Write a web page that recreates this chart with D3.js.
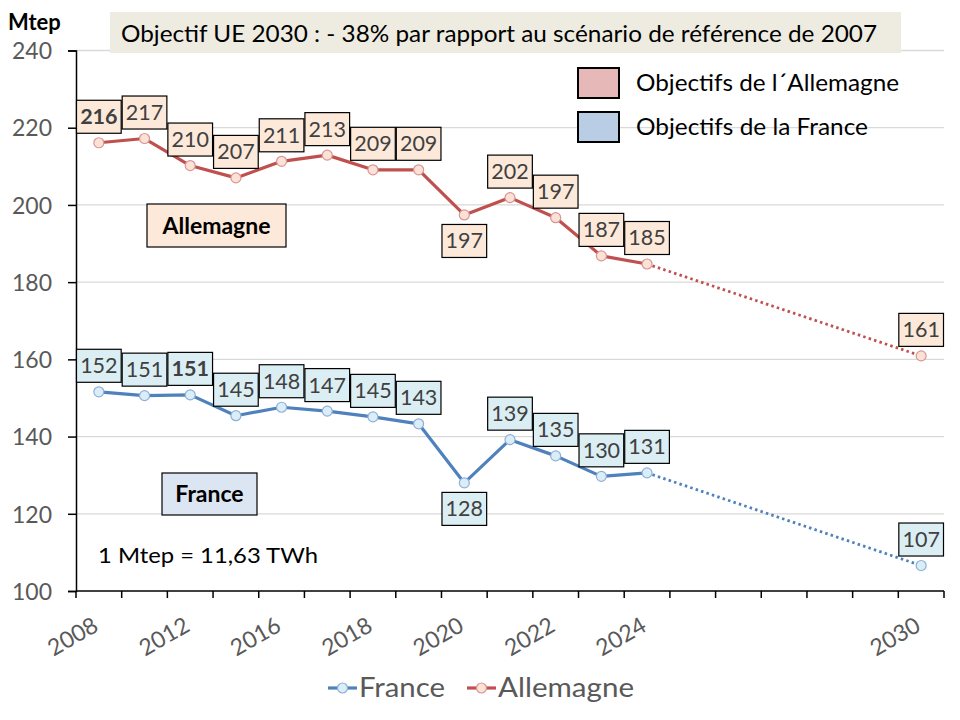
<!DOCTYPE html>
<html>
<head>
<meta charset="utf-8">
<script src="https://cdn.jsdelivr.net/npm/d3@7"></script>
<style>
  body { margin: 0; background: #fff; }
  svg { font-family: Lato, "Noto Sans", sans-serif; }
</style>
</head>
<body>
<div id="chart"></div>
<script>
// categories on the x axis (one band per year, Excel style)
var years = ["2008", "2010", "2012", "2014", "2016", "2017", "2018", "2019", "2020",
  "2021", "2022", "2023", "2024", "2025", "2026", "2027", "2028", "2029", "2030"];
var tickYears = ["2008", "2012", "2016", "2018", "2020", "2022", "2024", "2030"];
var yTicks = [100, 120, 140, 160, 180, 200, 220, 240];

// measured years, then the 2030 target
var dataYears = ["2008", "2010", "2012", "2014", "2016", "2017", "2018", "2019", "2020",
  "2021", "2022", "2023", "2024", "2030"];
var allemagne = [216.1, 217.2, 210.2, 207.0, 211.3, 212.9, 209.1, 209.1, 197.4, 201.9, 196.7, 186.8, 184.7, 160.9];
var france = [151.6, 150.6, 150.8, 145.4, 147.6, 146.6, 145.1, 143.3, 128.0, 139.2, 135.0, 129.7, 130.6, 106.6];

var lastMeasured = "2024";
var labelBelow = ["2020"];
var boldAllemagne = ["2008"];
var boldFrance = ["2012"];

var svgWidth = 960;
var svgHeight = 720;
var margin = { top: 50.5, right: 16, bottom: 129, left: 76 };

var svg = d3.select("#chart")
  .append("svg")
  .attr("width", svgWidth)
  .attr("height", svgHeight);

var x = d3.scaleBand()
  .domain(years)
  .range([margin.left, svgWidth - margin.right])
  .padding(0);

var y = d3.scaleLinear()
  .domain([100, 240])
  .range([svgHeight - margin.bottom, margin.top]);

var xc = function(yr) { return x(yr) + x.bandwidth() / 2; };

// gridlines
svg.append("g")
  .selectAll("line")
  .data(yTicks.slice(1))
  .enter()
  .append("line")
  .attr("x1", margin.left)
  .attr("x2", svgWidth - margin.right)
  .attr("y1", d => y(d))
  .attr("y2", d => y(d))
  .attr("stroke", "#d9d9d9")
  .attr("stroke-width", 1.3);

// y axis
var yAxis = svg.append("g")
  .attr("transform", `translate(${margin.left},0)`)
  .call(d3.axisLeft(y).tickValues(yTicks).tickSize(8).tickPadding(16));
yAxis.select(".domain").attr("stroke", "#000").attr("stroke-width", 1.5);
yAxis.selectAll(".tick line").attr("stroke", "#000").attr("stroke-width", 1.5);
yAxis.selectAll(".tick text")
  .attr("font-family", "Lato, sans-serif")
  .attr("font-size", 23)
  .attr("fill", "#595959")
  .attr("dy", "0.36em");

// x axis: ticks between categories
var xAxisY = y(100);
svg.append("line")
  .attr("x1", margin.left).attr("x2", svgWidth - margin.right)
  .attr("y1", xAxisY).attr("y2", xAxisY)
  .attr("stroke", "#000").attr("stroke-width", 1.5);
svg.append("g")
  .selectAll("line")
  .data(years.concat(["end"]))
  .enter()
  .append("line")
  .attr("x1", (d, i) => i < years.length ? x(d) : x(years[years.length - 1]) + x.bandwidth())
  .attr("x2", (d, i) => i < years.length ? x(d) : x(years[years.length - 1]) + x.bandwidth())
  .attr("y1", xAxisY)
  .attr("y2", xAxisY + 7)
  .attr("stroke", "#000")
  .attr("stroke-width", 1.5);

svg.append("g")
  .selectAll("text")
  .data(tickYears)
  .enter()
  .append("text")
  .attr("transform", d => `translate(${xc(d) + 1},${xAxisY + 39}) rotate(-30)`)
  .attr("text-anchor", "end")
  .attr("font-size", 23)
  .attr("fill", "#595959")
  .text(d => d);

// build series
function series(values) {
  return dataYears.map((yr, i) => ({ year: yr, value: values[i] }));
}
var seriesList = [
  { name: "France", data: series(france), line: "#4f81bd", markFill: "#dbeef8", markStroke: "#8eb0d8",
    boxFill: "#dbeef4", bold: boldFrance },
  { name: "Allemagne", data: series(allemagne), line: "#c0504d", markFill: "#fbe1d6", markStroke: "#d99694",
    boxFill: "#fde9d9", bold: boldAllemagne }
];

var lineGen = d3.line()
  .x(d => xc(d.year))
  .y(d => y(d.value));

var cut = dataYears.indexOf(lastMeasured);

seriesList.forEach(function(s) {
  var solid = s.data.slice(0, cut + 1);
  var dotted = s.data.slice(cut);

  svg.append("path")
    .datum(solid)
    .attr("d", lineGen)
    .attr("fill", "none")
    .attr("stroke", s.line)
    .attr("stroke-width", 3.2)
    .attr("stroke-linejoin", "round");

  svg.append("path")
    .datum(dotted)
    .attr("d", lineGen)
    .attr("fill", "none")
    .attr("stroke", s.line)
    .attr("stroke-width", 2.8)
    .attr("stroke-dasharray", "2.5,3.2");

  svg.append("g")
    .selectAll("circle")
    .data(s.data)
    .enter()
    .append("circle")
    .attr("cx", d => xc(d.year))
    .attr("cy", d => y(d.value))
    .attr("r", 5)
    .attr("fill", s.markFill)
    .attr("stroke", s.markStroke)
    .attr("stroke-width", 1.2);
});

// data labels
var boxW = x.bandwidth() - 1;
var boxH = 33;
seriesList.forEach(function(s) {
  var lab = svg.append("g")
    .selectAll("g")
    .data(s.data)
    .enter()
    .append("g")
    .attr("transform", function(d) {
      var cy = y(d.value) + (labelBelow.indexOf(d.year) >= 0 ? 26 : -26);
      return `translate(${xc(d.year)},${cy})`;
    });

  lab.append("rect")
    .attr("x", -boxW / 2)
    .attr("y", -boxH / 2)
    .attr("width", boxW)
    .attr("height", boxH)
    .attr("fill", s.boxFill)
    .attr("stroke", "#000")
    .attr("stroke-width", 1.2);

  lab.append("text")
    .attr("text-anchor", "middle")
    .attr("y", 7.5)
    .attr("font-size", 21.5)
    .attr("font-weight", d => s.bold.indexOf(d.year) >= 0 ? "bold" : "normal")
    .attr("fill", "#404040")
    .text(d => Math.round(d.value));
});

// unit
svg.append("text")
  .attr("x", 8).attr("y", 30)
  .attr("font-size", 22)
  .attr("font-weight", "bold")
  .attr("fill", "#000")
  .text("Mtep");

// title box
svg.append("rect")
  .attr("x", 110).attr("y", 12)
  .attr("width", 791).attr("height", 41)
  .attr("fill", "#eeece1");
svg.append("text")
  .attr("x", 121).attr("y", 42)
  .attr("font-size", 23)
  .attr("fill", "#000")
  .attr("textLength", 756)
  .attr("lengthAdjust", "spacingAndGlyphs")
  .text("Objectif UE 2030 : - 38% par rapport au scénario de référence de 2007");

// target legend
var targets = [
  { label: "Objectifs de l\u00B4Allemagne", fill: "#e6b9b8", top: 68, width: 263 },
  { label: "Objectifs de la France", fill: "#b9cde5", top: 112, width: 232 }
];
targets.forEach(function(t) {
  svg.append("rect")
    .attr("x", 578).attr("y", t.top)
    .attr("width", 41).attr("height", 30)
    .attr("fill", t.fill)
    .attr("stroke", "#000")
    .attr("stroke-width", 2);
  svg.append("text")
    .attr("x", 636).attr("y", t.top + 23)
    .attr("font-size", 24)
    .attr("fill", "#000")
    .attr("textLength", t.width)
    .attr("lengthAdjust", "spacingAndGlyphs")
    .text(t.label);
});

// country tags
var tags = [
  { label: "Allemagne", x: 147, y: 204, w: 139, h: 43, fill: "#fde9d9" },
  { label: "France", x: 162, y: 473, w: 95, h: 42, fill: "#dce6f2" }
];
tags.forEach(function(t) {
  svg.append("rect")
    .attr("x", t.x).attr("y", t.y)
    .attr("width", t.w).attr("height", t.h)
    .attr("fill", t.fill)
    .attr("stroke", "#000")
    .attr("stroke-width", 1.2);
  svg.append("text")
    .attr("x", t.x + t.w / 2).attr("y", t.y + t.h / 2 + 8)
    .attr("text-anchor", "middle")
    .attr("font-size", 23)
    .attr("font-weight", "bold")
    .attr("fill", "#000")
    .text(t.label);
});

svg.append("text")
  .attr("x", 98).attr("y", 563)
  .attr("font-size", 21)
  .attr("fill", "#000")
  .attr("textLength", 220)
  .attr("lengthAdjust", "spacingAndGlyphs")
  .text("1 Mtep = 11,63 TWh");

// series legend
var legendItems = [
  { s: seriesList[0], x: 328, textW: 86 },
  { s: seriesList[1], x: 467, textW: 136 }
];
legendItems.forEach(function(l) {
  svg.append("line")
    .attr("x1", l.x).attr("x2", l.x + 29)
    .attr("y1", 688).attr("y2", 688)
    .attr("stroke", l.s.line)
    .attr("stroke-width", 3.2);
  svg.append("circle")
    .attr("cx", l.x + 14.5).attr("cy", 688)
    .attr("r", 5)
    .attr("fill", l.s.markFill)
    .attr("stroke", l.s.markStroke)
    .attr("stroke-width", 1.2);
  svg.append("text")
    .attr("x", l.x + 31).attr("y", 697)
    .attr("font-size", 26)
    .attr("fill", "#595959")
    .attr("textLength", l.textW)
    .attr("lengthAdjust", "spacingAndGlyphs")
    .text(l.s.name);
});
</script>
</body>
</html>
